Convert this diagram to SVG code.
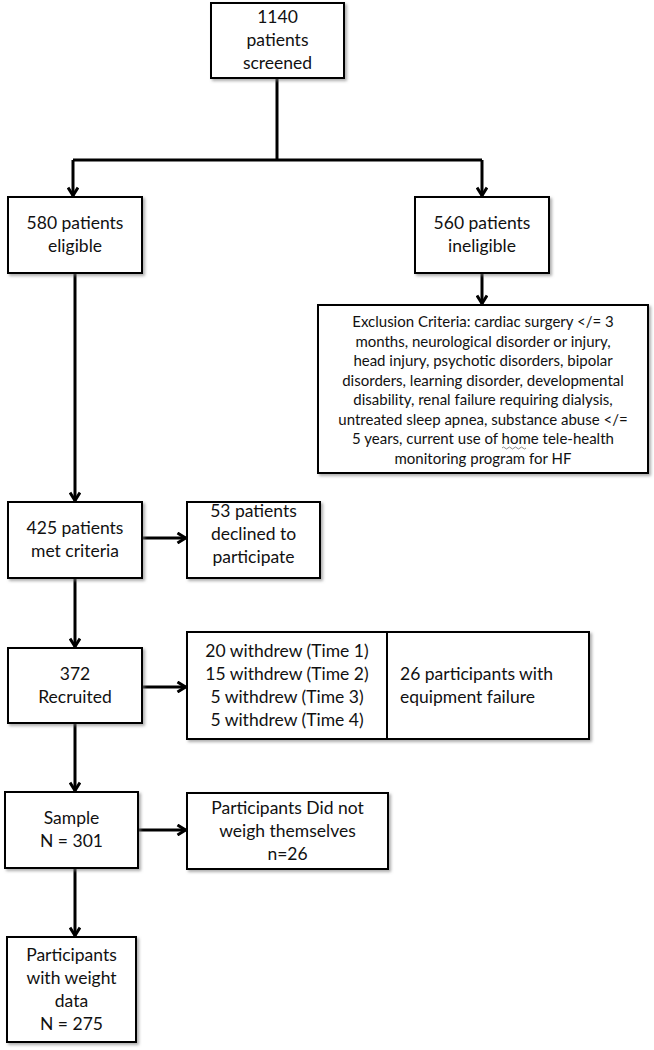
<svg xmlns="http://www.w3.org/2000/svg" width="654" height="1050" viewBox="0 0 654 1050">
<style>
.box{fill:#fff;stroke:#000;stroke-width:2;filter:url(#sh)}
.t{font-family:Lato,"Open Sans","Liberation Sans",sans-serif;font-size:17.5px;fill:#111;text-anchor:middle}
.s{font-family:Lato,"Open Sans","Liberation Sans",sans-serif;font-size:15px;fill:#111;text-anchor:middle}
.l{text-anchor:start}
.c{fill:none;stroke:#000;stroke-width:3}
</style>
<defs>
<filter id="sh" x="-10%" y="-10%" width="120%" height="130%"><feDropShadow dx="2" dy="2" stdDeviation="1.5" flood-color="#777" flood-opacity="0.6"/></filter>
<marker id="ah" viewBox="0 0 12 12" refX="10.5" refY="6" markerWidth="12" markerHeight="12" orient="auto" markerUnits="userSpaceOnUse"><path d="M2,1 L10,6 L2,11" fill="none" stroke="#000" stroke-width="3"/></marker>
</defs>
<g id="connectors">
<path class="c" d="M277,78 V160"/>
<path class="c" d="M73,160 H482"/>
<path class="c" d="M73,160 V196" marker-end="url(#ah)"/>
<path class="c" d="M482,160 V196" marker-end="url(#ah)"/>
<path class="c" d="M482,273 V304" marker-end="url(#ah)"/>
<path class="c" d="M75,273 V501" marker-end="url(#ah)"/>
<path class="c" d="M142,538 H186" marker-end="url(#ah)"/>
<path class="c" d="M75,578 V647" marker-end="url(#ah)"/>
<path class="c" d="M142,687 H186" marker-end="url(#ah)"/>
<path class="c" d="M75,723 V791" marker-end="url(#ah)"/>
<path class="c" d="M138,830 H186" marker-end="url(#ah)"/>
<path class="c" d="M75,868 V936" marker-end="url(#ah)"/>
</g>
<g id="n_screened"><rect class="box" x="211" y="3" width="133" height="75"/>
<text class="t" x="277.5" y="23">1140</text><text class="t" x="277.5" y="46">patients</text><text class="t" x="277.5" y="69">screened</text></g>
<g id="n_eligible"><rect class="box" x="8" y="197" width="134" height="76"/>
<text class="t" x="75" y="229">580 patients</text><text class="t" x="75" y="252">eligible</text></g>
<g id="n_ineligible"><rect class="box" x="415" y="197" width="134" height="76"/>
<text class="t" x="482" y="229">560 patients</text><text class="t" x="482" y="252">ineligible</text></g>
<g id="n_exclusion"><rect class="box" x="318" y="305" width="330" height="168"/>
<text class="s" x="483" y="327">Exclusion Criteria: cardiac surgery &lt;/= 3</text>
<text class="s" x="483" y="347">months, neurological disorder or injury,</text>
<text class="s" x="483" y="366">head injury, psychotic disorders, bipolar</text>
<text class="s" x="483" y="386">disorders, learning disorder, developmental</text>
<text class="s" x="483" y="405">disability, renal failure requiring dialysis,</text>
<text class="s" x="483" y="425">untreated sleep apnea, substance abuse &lt;/=</text>
<text class="s" x="483" y="444">5 years, current use of home tele-health</text>
<text class="s" x="483" y="464">monitoring program for HF</text>
<path d="M502,448 q1.5,-2 3,0 t3,0 t3,0 t3,0 t3,0 t3,0 t3,0 t3,0" fill="none" stroke="#8a8a8a" stroke-width="1"/></g>
<g id="n_met"><rect class="box" x="8" y="502" width="134" height="76"/>
<text class="t" x="75" y="534">425 patients</text><text class="t" x="75" y="557">met criteria</text></g>
<g id="n_declined"><rect class="box" x="187" y="502" width="133" height="76"/>
<text class="t" x="253.5" y="517">53 patients</text><text class="t" x="253.5" y="540">declined to</text><text class="t" x="253.5" y="563">participate</text></g>
<g id="n_recruited"><rect class="box" x="8" y="648" width="134" height="75"/>
<text class="t" x="75" y="680">372</text><text class="t" x="75" y="703">Recruited</text></g>
<g id="n_withdrew"><rect class="box" x="187" y="632" width="402" height="107"/>
<line x1="387" y1="632" x2="387" y2="739" stroke="#000" stroke-width="2"/>
<text class="t" x="287" y="657">20 withdrew (Time 1)</text>
<text class="t" x="287" y="680">15 withdrew (Time 2)</text>
<text class="t" x="287" y="703">5 withdrew (Time 3)</text>
<text class="t" x="287" y="726">5 withdrew (Time 4)</text>
<text class="t l" x="400" y="680">26 participants  with</text>
<text class="t l" x="400" y="703">equipment failure</text></g>
<g id="n_sample"><rect class="box" x="5" y="792" width="133" height="76"/>
<text class="t" x="71.5" y="824">Sample</text><text class="t" x="71.5" y="847">N = 301</text></g>
<g id="n_notweigh"><rect class="box" x="187" y="793" width="201" height="76"/>
<text class="t" x="287.5" y="814">Participants Did not</text><text class="t" x="287.5" y="837">weigh themselves</text><text class="t" x="287.5" y="860">n=26</text></g>
<g id="n_weight"><rect class="box" x="7" y="937" width="129" height="105"/>
<text class="t" x="71.5" y="961">Participants</text><text class="t" x="71.5" y="984">with weight</text><text class="t" x="71.5" y="1007">data</text><text class="t" x="71.5" y="1030">N = 275</text></g>
</svg>
